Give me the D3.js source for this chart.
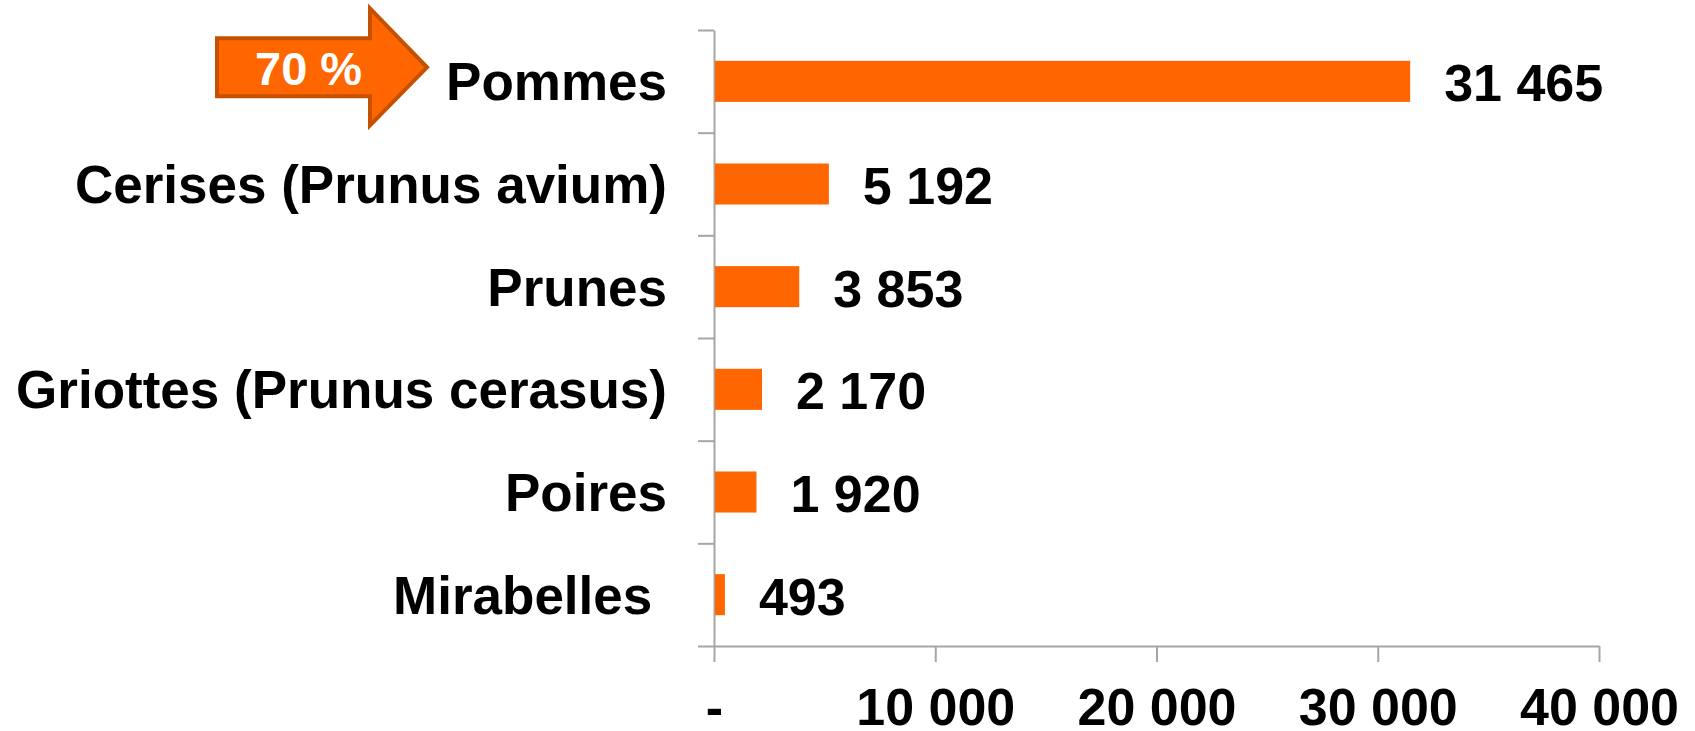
<!DOCTYPE html>
<html>
<head>
  <meta charset="utf-8">
  <title>Fruits</title>
  <style>
  body { margin: 0px; background: #fff; }
  text { font-family: "Liberation Sans", Arial, sans-serif; font-weight: bold; }
  .axis path, .axis line { stroke: #a6a6a6; stroke-width: 2px; }
  </style>
</head>
<body>
  <svg width="1695" height="731"></svg>
  <script src="https://d3js.org/d3.v7.min.js"></script>
  <script>
  // data
  var categories = ["Pommes", "Cerises (Prunus avium)", "Prunes", "Griottes (Prunus cerasus)", "Poires", "Mirabelles\u00a0"];
  var values = [31465, 5192, 3853, 2170, 1920, 493];
  var xTicks = [0, 10000, 20000, 30000, 40000];
  var callout = "70 %";

  var svg = d3.select("svg");
  var fr = d3.formatLocale({decimal: ",", thousands: "\u00a0", grouping: [3], currency: ["", " €"]});
  var fmt = fr.format(",d");

  var x = d3.scaleLinear().domain([0, 40000]).range([714, 1599]);
  var y = d3.scaleBand().domain(categories).range([30, 646]).paddingInner(0.6).paddingOuter(0.3);
  // band boundaries for the category ticks
  var yEdges = d3.scaleLinear().domain([0, categories.length]).range([30, 646]);

  svg.append("g")
    .attr("class", "axis")
    .attr("transform", "translate(714,0)")
    .call(d3.axisLeft(yEdges).tickValues(d3.range(categories.length + 1)).tickSize(16).tickSizeOuter(0).tickFormat(""));

  var xAxis = svg.append("g")
    .attr("class", "axis")
    .attr("transform", "translate(0,646)")
    .call(d3.axisBottom(x).tickValues(xTicks).tickSize(16).tickSizeOuter(0)
      .tickFormat(function(d) { return d == 0 ? "-" : fmt(d); }));
  xAxis.selectAll("text")
    .attr("y", 79)
    .attr("dy", 0)
    .attr("fill", "#000")
    .attr("font-size", "52px")
    .style("font-family", "'Liberation Sans', Arial, sans-serif")
    .style("font-weight", "bold");

  svg.selectAll(".bar")
    .data(values)
    .enter()
    .append("rect")
    .attr("class", "bar")
    .attr("x", x(0) + 1)
    .attr("y", function(d, i) { return y(categories[i]); })
    .attr("width", function(d) { return x(d) - x(0) - 1; })
    .attr("height", y.bandwidth())
    .attr("fill", "#ff6600");

  svg.selectAll(".val")
    .data(values)
    .enter()
    .append("text")
    .attr("class", "val")
    .attr("x", function(d) { return x(d) + 34; })
    .attr("y", function(d, i) { return y(categories[i]) + y.bandwidth() / 2 + 20; })
    .attr("font-size", "52px")
    .text(function(d) { return fmt(d); });

  svg.selectAll(".cat")
    .data(categories)
    .enter()
    .append("text")
    .attr("class", "cat")
    .attr("x", 667)
    .attr("y", function(d) { return y(d) + y.bandwidth() / 2 + 19; })
    .attr("text-anchor", "end")
    .attr("font-size", "53px")
    .style("white-space", "pre")
    .text(function(d) { return d; });

  // callout arrow next to the first category
  var cy = y(categories[0]) + y.bandwidth() / 2 - 14;
  svg.append("path")
    .attr("d", "M217," + (cy - 29) + "H370V" + (cy - 59) + "L427," + cy + "L370," + (cy + 58) + "V" + (cy + 29) + "H217Z")
    .attr("fill", "#ff6600")
    .attr("stroke", "#c55000")
    .attr("stroke-width", 4)
    .attr("stroke-linejoin", "miter");
  svg.append("text")
    .attr("x", 255)
    .attr("y", cy + 18)
    .attr("fill", "#fff")
    .attr("font-size", "47px")
    .text(callout);
  </script>
</body>
</html>
